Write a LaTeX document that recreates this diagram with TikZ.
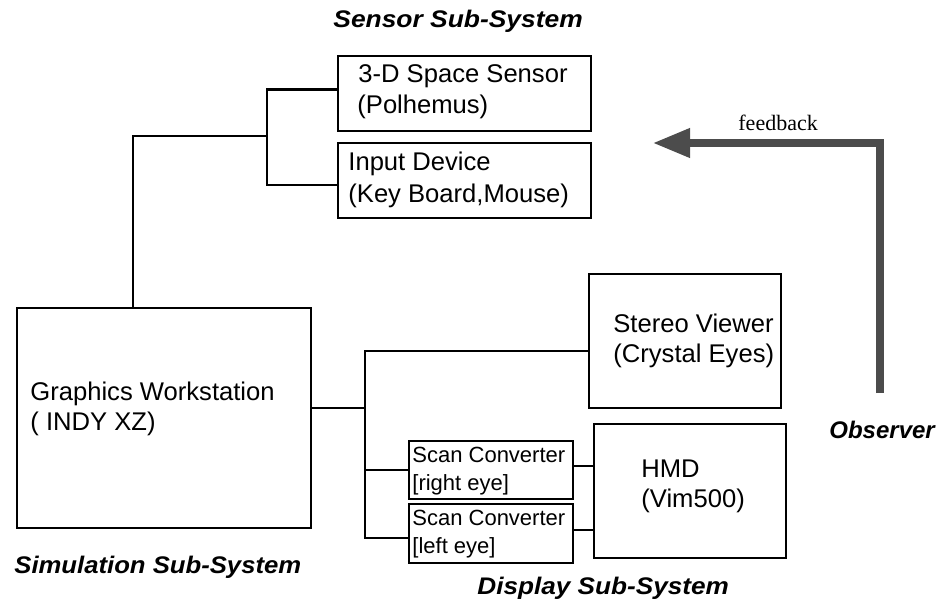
\documentclass[tikz,border=0pt]{standalone}
\usepackage{graphicx}
\usepackage{fontspec}
\setmainfont{Liberation Sans}
\newfontfamily\fbfont{Liberation Serif}
\usetikzlibrary{arrows.meta}
\begin{document}
\begin{tikzpicture}[x=0.5pt,y=-0.5pt,
 box/.style={draw, line width=1.1pt, rectangle, inner sep=0pt, anchor=north west},
 lbl/.style={anchor=base west, inner sep=0pt, font=\fontsize{12.8}{15}\selectfont},
 slbl/.style={anchor=base west, inner sep=0pt, font=\fontsize{11}{13}\selectfont},
 head/.style={anchor=base west, inner sep=0pt, font=\fontsize{12}{14}\selectfont\bfseries\itshape},
 fblbl/.style={anchor=base west, inner sep=0pt, font=\fbfont\fontsize{11}{13}\selectfont},
 wire/.style={line width=1.1pt},
 fb/.style={line width=3.6pt, draw=black!70, -{Triangle[length=18.5pt,width=14pt]}}]
\useasboundingbox (0,0) rectangle (937,599);

% boxes
\node[box, minimum width=126.5pt, minimum height=37.5pt] (s1) at (337,55) {};
\node[box, minimum width=126.5pt, minimum height=37.5pt] (s2) at (337,142) {};
\node[box, minimum width=147pt, minimum height=110pt] (gw) at (16,307) {};
\node[box, minimum width=96pt, minimum height=67pt] (sv) at (588,273) {};
\node[box, minimum width=96pt, minimum height=67pt] (hmd) at (593,423) {};
\node[box, minimum width=82pt, minimum height=29pt] (sc1) at (408,440) {};
\node[box, minimum width=82pt, minimum height=29.5pt] (sc2) at (408,503) {};

% box texts
\node[lbl] (t1a) at (358,83) {3-D Space Sensor};
\node[lbl] (t1b) at (357,113) {(Polhemus)};
\node[lbl] (t2a) at (348,170) {Input Device};
\node[lbl] (t2b) at (348,202) {(Key Board,Mouse)};
\node[lbl] (tga) at (30,400) {Graphics Workstation};
\node[lbl] (tgb) at (30,430) {( INDY XZ)};
\node[lbl] (tsa) at (613,332) {Stereo Viewer};
\node[lbl] (tsb) at (613,362) {(Crystal Eyes)};
\node[lbl] (tha) at (641,477) {HMD};
\node[lbl] (thb) at (641,507) {(Vim500)};
\node[slbl] (tc1a) at (412,462) {Scan Converter};
\node[slbl] (tc1b) at (412,490) {[right eye]};
\node[slbl] (tc2a) at (412,525) {Scan Converter};
\node[slbl] (tc2b) at (412,553) {[left eye]};

% headings
\node[head] (hsen) at (333,28) {\scalebox{1.1}[1]{Sensor Sub-System}};
\node[head] (hsim) at (14,573) {\scalebox{1.07}[1]{Simulation Sub-System}};
\node[head] (hdis) at (477,594) {\scalebox{1.09}[1]{Display Sub-System}};
\node[head] (hobs) at (829,438) {\scalebox{1.0}[1]{Observer}};
\node[fblbl] (hfb) at (738,131) {feedback};

% sensor connectors
\coordinate (jn) at (267,136);
\coordinate (jw) at (133,136);
\draw[wire] ([yshift=2pt]s1.west) -| (jn) |- ([yshift=-2pt]s2.west);
\draw[wire] (jn) -- (jw) -- (jw |- gw.north);

% display connectors
\coordinate (jd) at (365,408);
\draw[wire] (jd -| gw.east) -- (jd);
\draw[wire] ([yshift=-5pt]sv.west) -| (jd);
\draw[wire] (sc1.west) -| (jd);
\draw[wire] ([yshift=-2pt]sc2.west) -| (jd);
\draw[wire] ([yshift=2pt]sc1.east) -- ([yshift=2pt]sc1.east -| hmd.west);
\draw[wire] ([yshift=2pt]sc2.east) -- ([yshift=2pt]sc2.east -| hmd.west);

% feedback arrow
\coordinate (fbs) at (880,393);
\coordinate (fbc) at (880,143);
\coordinate (fbe) at (653,143);
\draw[fb] (fbs) -- (fbc) -- (fbe);
\end{tikzpicture}
\end{document}
